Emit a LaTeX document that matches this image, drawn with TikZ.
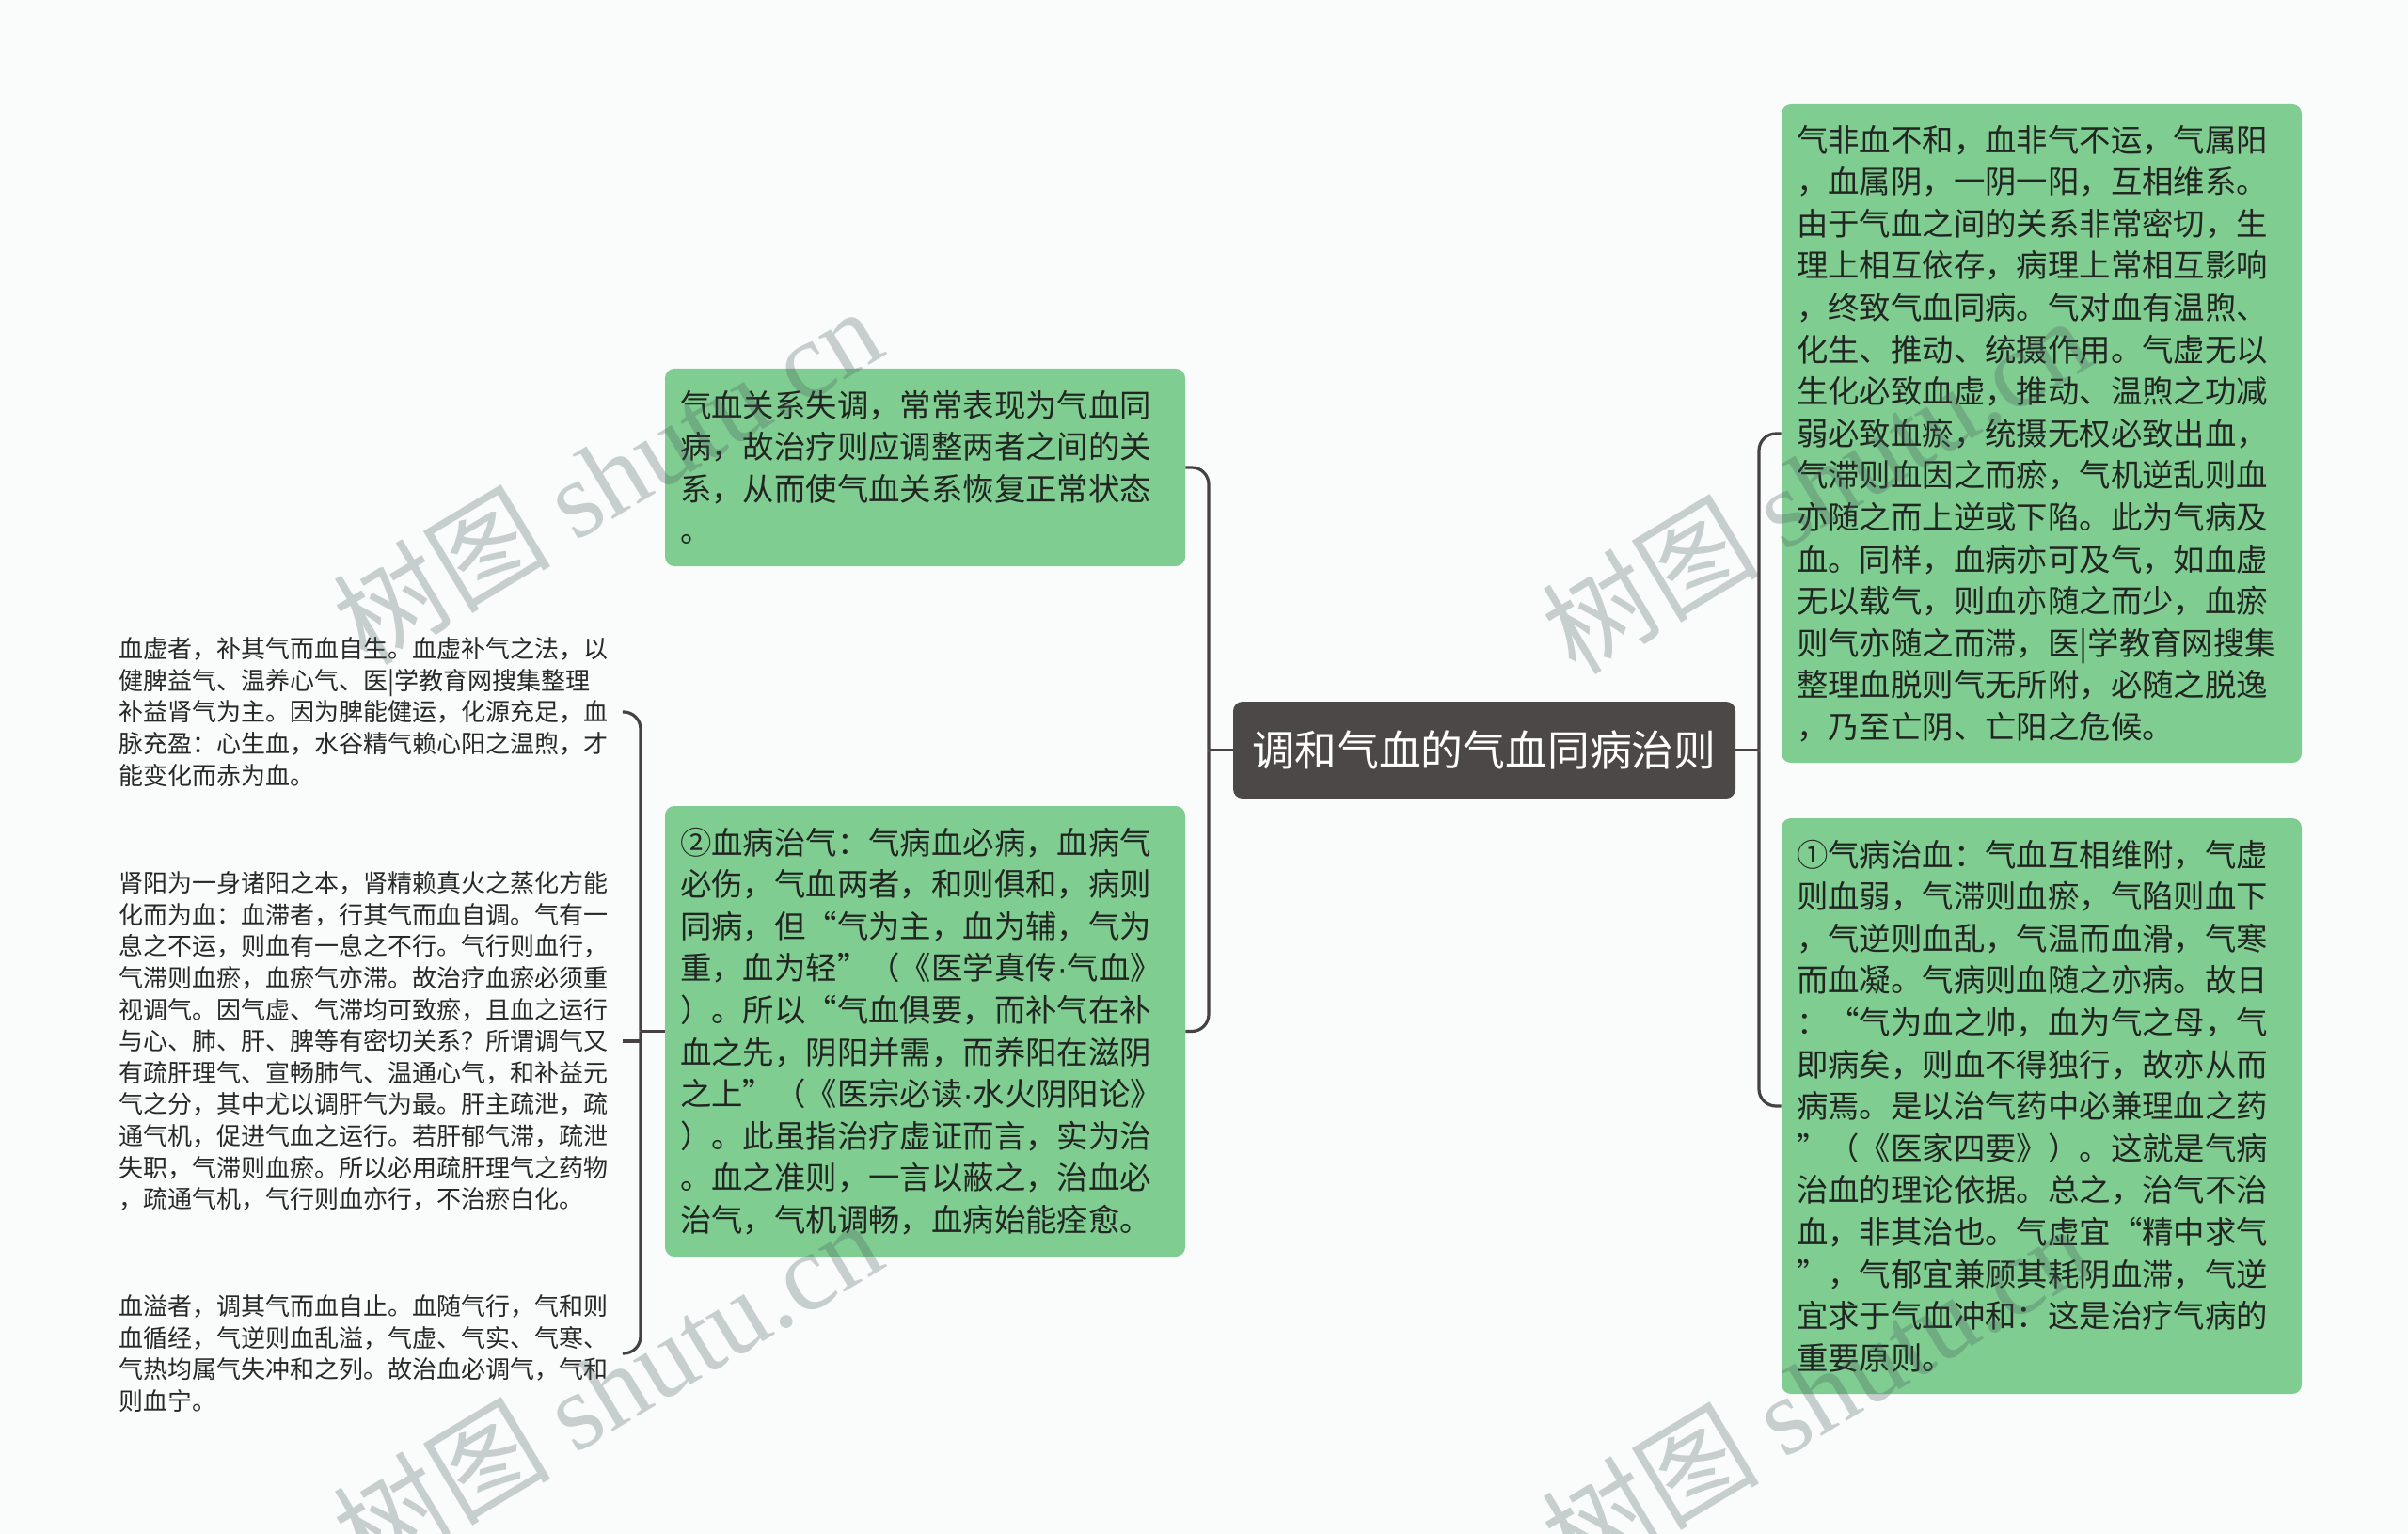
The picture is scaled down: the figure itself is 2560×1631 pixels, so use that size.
\documentclass[tikz,border=0pt]{standalone}
\usepackage{fontspec}
\newfontfamily\cjk{Noto Sans CJK SC}
\newfontfamily\wmlatin{Liberation Serif}
\newfontfamily\dotfont{Liberation Sans}
\newcommand{\mdot}{{\dotfont ·}}
\definecolor{bg}{RGB}{250,252,252}
\definecolor{gfill}{RGB}{127,205,145}
\definecolor{cfill}{RGB}{77,72,72}
\definecolor{lcol}{RGB}{70,66,66}
\definecolor{gtext}{RGB}{34,38,34}
\definecolor{ptext}{RGB}{40,40,40}
\definecolor{wm}{RGB}{70,90,90}
\begin{document}
\begin{tikzpicture}[x=0.5pt,y=-0.5pt,
  gbox/.style={rectangle, rounded corners=5pt, fill=gfill, text=gtext, inner xsep=8pt, inner ysep=0pt,
    minimum width=276.5pt, text width=260.5pt, align=left, font=\cjk\fontsize{16.7pt}{22.3pt}\selectfont},
  cbox/.style={rectangle, rounded corners=5pt, fill=cfill, text=white, inner sep=0pt,
    minimum width=267pt, minimum height=51.5pt, font=\cjk\fontsize{22.4pt}{28pt}\selectfont},
  ptxt/.style={inner sep=0pt, anchor=west, text width=264pt, align=left, text=ptext,
    font=\cjk\fontsize{13pt}{16.8pt}\selectfont},
  conn/.style={draw=lcol, line width=1.6pt, rounded corners=9pt},
  wmark/.style={text=wm, text opacity=0.28, font=\cjk\fontsize{58pt}{62pt}\selectfont, inner sep=0pt, rotate=31}
]
\fill[bg] (0,0) rectangle (2560,1631);
\useasboundingbox (0,0) rectangle (2560,1631);

\node[cbox] (root) at (1578,797.5) {调和气血的气血同病治则};

\node[gbox, minimum height=105pt] (A) at (983.5,497) {气血关系失调，常常表现为气血同\\
病，故治疗则应调整两者之间的关\\
系，从而使气血关系恢复正常状态\\
。};

\node[gbox, minimum height=239.5pt] (B) at (983.5,1096.5) {②血病治气：气病血必病，血病气\\
必伤，气血两者，和则俱和，病则\\
同病，但“气为主，血为辅，气为\\
重，血为轻”（《医学真传\mdot 气血》\\
）。所以“气血俱要，而补气在补\\
血之先，阴阳并需，而养阳在滋阴\\
之上”（《医宗必读\mdot 水火阴阳论》\\
）。此虽指治疗虚证而言，实为治\\
。血之准则，一言以蔽之，治血必\\
治气，气机调畅，血病始能痊愈。};

\node[gbox, minimum height=350pt] (C) at (2170.5,461) {气非血不和，血非气不运，气属阳\\
，血属阴，一阴一阳，互相维系。\\
由于气血之间的关系非常密切，生\\
理上相互依存，病理上常相互影响\\
，终致气血同病。气对血有温煦、\\
化生、推动、统摄作用。气虚无以\\
生化必致血虚，推动、温煦之功减\\
弱必致血瘀，统摄无权必致出血，\\
气滞则血因之而瘀，气机逆乱则血\\
亦随之而上逆或下陷。此为气病及\\
血。同样，血病亦可及气，如血虚\\
无以载气，则血亦随之而少，血瘀\\
则气亦随之而滞，医|学教育网搜集\\
整理血脱则气无所附，必随之脱逸\\
，乃至亡阴、亡阳之危候。};

\node[gbox, minimum height=306pt] (D) at (2170.5,1176) {①气病治血：气血互相维附，气虚\\
则血弱，气滞则血瘀，气陷则血下\\
，气逆则血乱，气温而血滑，气寒\\
而血凝。气病则血随之亦病。故日\\
：“气为血之帅，血为气之母，气\\
即病矣，则血不得独行，故亦从而\\
病焉。是以治气药中必兼理血之药\\
”（《医家四要》）。这就是气病\\
治血的理论依据。总之，治气不治\\
血，非其治也。气虚宜“精中求气\\
”，气郁宜兼顾其耗阴血滞，气逆\\
宜求于气血冲和：这是治疗气病的\\
重要原则。};

\node[ptxt] (t1) at (126,757) {血虚者，补其气而血自生。血虚补气之法，以\\
健脾益气、温养心气、医|学教育网搜集整理\\
补益肾气为主。因为脾能健运，化源充足，血\\
脉充盈：心生血，水谷精气赖心阳之温煦，才\\
能变化而赤为血。};

\node[ptxt] (t2) at (126,1107) {肾阳为一身诸阳之本，肾精赖真火之蒸化方能\\
化而为血：血滞者，行其气而血自调。气有一\\
息之不运，则血有一息之不行。气行则血行，\\
气滞则血瘀，血瘀气亦滞。故治疗血瘀必须重\\
视调气。因气虚、气滞均可致瘀，且血之运行\\
与心、肺、肝、脾等有密切关系？所谓调气又\\
有疏肝理气、宣畅肺气、温通心气，和补益元\\
气之分，其中尤以调肝气为最。肝主疏泄，疏\\
通气机，促进气血之运行。若肝郁气滞，疏泄\\
失职，气滞则血瘀。所以必用疏肝理气之药物\\
，疏通气机，气行则血亦行，不治瘀白化。};

\node[ptxt] (t3) at (126,1439) {血溢者，调其气而血自止。血随气行，气和则\\
血循经，气逆则血乱溢，气虚、气实、气寒、\\
气热均属气失冲和之列。故治血必调气，气和\\
则血宁。};

\coordinate (jl) at (681,1096.5);
\coordinate (jc) at (1285,797.5);
\coordinate (jr) at (1870,797.5);

\draw[conn] (root.west) -- (jc);
\draw[conn] (A.east) -| (jc);
\draw[conn] (B.east) -| (jc);

\draw[conn] (root.east) -- (jr);
\draw[conn] (C.west) -| (jr);
\draw[conn] (D.west) -| (jr);

\draw[conn] (B.west) -- (jl);
\draw[conn] ([xshift=3.5pt]t1.east) -| (jl);
\draw[conn] ([xshift=3.5pt]t3.east) -| (jl);
\draw[conn] ([xshift=3.5pt]t2.east) -- (t2.east -| jl);

\node[wmark] (w1) at (645,505) {树图 {\wmlatin shutu.cn}};
\node[wmark] (w2) at (1930,515) {树图 {\wmlatin shutu.cn}};
\node[wmark] (w3) at (645,1475) {树图 {\wmlatin shutu.cn}};
\node[wmark] (w4) at (1930,1480) {树图 {\wmlatin shutu.cn}};
\end{tikzpicture}
\end{document}
